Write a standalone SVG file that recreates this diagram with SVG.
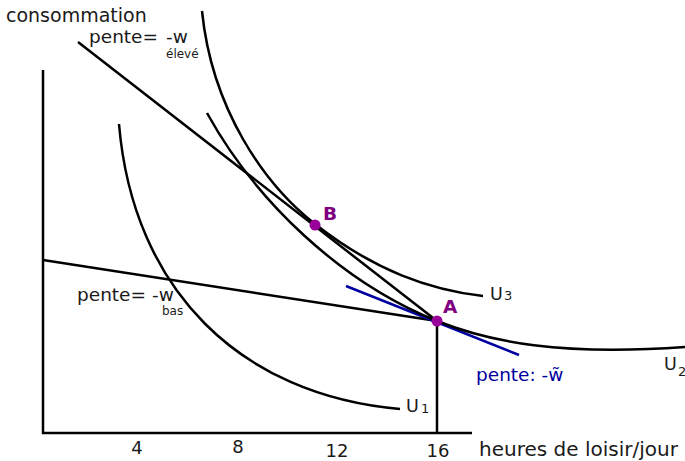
<svg xmlns="http://www.w3.org/2000/svg" width="685" height="461" viewBox="0 0 685 461">
<style>
.ln{fill:none;stroke:#000;stroke-width:2.5;stroke-linecap:butt}
.bl{fill:none;stroke:#0000a0;stroke-width:2.5}
.t{font-family:"DejaVu Sans",Verdana,sans-serif;fill:#1a1a1a}
.pt{fill:#990099}
.pl{font-family:"DejaVu Sans",Verdana,sans-serif;font-weight:bold;fill:#800080;font-size:18.5px}
</style>
<rect width="685" height="461" fill="#fff"/>
<g id="axes">
<path class="ln" d="M43,70 V433 H472"/>
<path class="ln" d="M437,321 V433"/>
</g>
<g id="connectors">
<path id="budget-high" class="ln" d="M78,42 L437,321"/>
<path id="budget-low" class="ln" d="M43,260 L437,321"/>
<path id="tangent" class="bl" d="M346,286 L519,355"/>
</g>
<g id="U1">
<path class="ln" d="M119,124 C133,290 240,395 400,409"/>
<text class="t" x="406" y="412" font-size="17.5">U</text>
<text class="t" x="421" y="413" font-size="13">1</text>
</g>
<g id="U2">
<path class="ln" d="M207,113 C255,200 340,282 437,321 C490,342 560,356 685,347"/>
<text class="t" x="664" y="370" font-size="17.5">U</text>
<text class="t" x="678" y="376" font-size="13">2</text>
</g>
<g id="U3">
<path class="ln" d="M202,11 C212,110 265,185 315,224 C375,271 430,290 483,296"/>
<text class="t" x="490" y="300" font-size="17.5">U</text>
<text class="t" x="504" y="300" font-size="13">3</text>
</g>
<g id="A">
<circle class="pt" cx="437" cy="321" r="5.5"/>
<text class="pl" x="443" y="313">A</text>
</g>
<g id="B">
<circle class="pt" cx="315" cy="225" r="5.5"/>
<text class="pl" x="323" y="220">B</text>
</g>
<g id="labels">
<text class="t" x="6" y="22" font-size="19">consommation</text>
<text class="t" x="89" y="43" font-size="18.5">pente=</text>
<text class="t" x="166" y="43" font-size="18.5">-w</text>
<text class="t" x="166" y="58" font-size="12">élevé</text>
<text class="t" x="77" y="301" font-size="18.5">pente=</text>
<text class="t" x="152" y="301" font-size="18.5">-w</text>
<text class="t" x="162" y="315" font-size="12">bas</text>
<text x="476" y="381" font-size="18.5" font-family="DejaVu Sans,Verdana,sans-serif" fill="#0000a0">pente: -w̃</text>
<text class="t" x="479" y="456" font-size="20">heures de loisir/jour</text>
<text class="t" x="137" y="454" font-size="18" text-anchor="middle">4</text>
<text class="t" x="238" y="453" font-size="18" text-anchor="middle">8</text>
<text class="t" x="337" y="457" font-size="18" text-anchor="middle">12</text>
<text class="t" x="438" y="457" font-size="18" text-anchor="middle">16</text>
</g>
</svg>
